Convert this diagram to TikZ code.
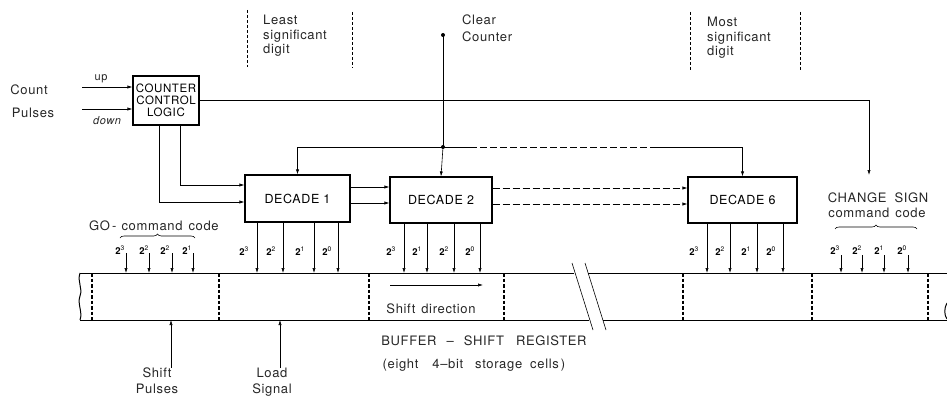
\documentclass[tikz,border=0pt]{standalone}
\usepackage{fontspec}
\setmainfont[LetterSpace=5]{TeX Gyre Heros}
\usetikzlibrary{arrows.meta,positioning,calc,decorations.pathreplacing}

\tikzset{
  box/.style={draw, line width=1.1pt, inner sep=0pt, font=\fontsize{12.5}{14}\selectfont},
  conn/.style={line width=0.6pt, -{Latex[length=5pt,width=3.2pt]}},
  wire/.style={line width=0.6pt},
  lbl/.style={font=\fontsize{13}{14.5}\selectfont, text=black!85, align=left, inner sep=0pt},
  small/.style={font=\fontsize{11}{12}\selectfont, text=black!85, inner sep=0pt},
  bit/.style={font=\fontsize{9.5}{10}\selectfont, inner sep=0pt, anchor=base},
  divider/.style={line width=0.9pt, dash pattern=on 3pt off 2pt},
  cell/.style={line width=1.1pt, dash pattern=on 3.5pt off 2pt},
  reg/.style={line width=1pt},
  brc/.style={decorate, decoration={brace, amplitude=4pt}, line width=0.6pt},
}
\newcommand{\bitlbl}[1]{{\bfseries 2}\textsuperscript{#1}}

\begin{document}
\begin{tikzpicture}[x=1pt,y=-1pt]
\useasboundingbox (0,0) rectangle (947,396);

% digit markers
\draw[divider] (247,10) -- (247,67);
\draw[divider] (352,12) -- (352,68);
\node[lbl, anchor=north west] (lsd) at (263,15) {Least\\significant\\digit};
\draw[divider] (690,12) -- (690,70);
\draw[divider] (800,12) -- (800,70);
\node[lbl, anchor=north west] (msd) at (707,17) {Most\\significant\\digit};

% inputs
\node[lbl, anchor=base] (count) at (29,94) {Count};
\node[lbl, anchor=base] (pulses) at (33,117) {Pulses};
\node[small, anchor=base] (uplbl) at (101,81) {up};
\node[small, anchor=base, font=\fontsize{11}{12}\itshape] (downlbl) at (107,124) {down};
\coordinate (upin) at (82,87);
\coordinate (downin) at (82,109);

% boxes
\node[box, minimum width=66pt, minimum height=49pt, align=center,
  font=\fontsize{11.5}{12}\selectfont] (ccl) at (166,100.5) {COUNTER\\CONTROL\\LOGIC};
\node[box, minimum width=105pt, minimum height=47pt] (dec1) at (297.5,198.5) {DECADE 1};
\node[box, minimum width=102pt, minimum height=46pt] (dec2) at (441,200) {DECADE 2};
\node[box, minimum width=109pt, minimum height=46pt] (dec6) at (742.5,200) {DECADE 6};

\draw[conn] (upin) -- (ccl.west |- upin);
\draw[conn] (downin) -- (ccl.west |- downin);

% clear counter
\node[lbl, anchor=north west, align=left, font=\fontsize{13}{17}\selectfont] (clrlbl) at (462,15) {Clear\\Counter};
\coordinate (clr) at (443,35);
\coordinate (jn) at (443,147);
\fill (clr) circle (2pt);
\fill (jn) circle (2pt);
\draw[wire] (clr) -- (jn);
\draw[conn] (jn) -- (dec2.north);
\draw[conn] (jn) -| (dec1.north);
\draw[wire] (jn) -- (470,147);
\draw[wire, dash pattern=on 7pt off 3pt] (470,147) -- (650,147);
\draw[conn] (650,147) -| (dec6.north);

% counter control to decades
\draw[conn] (ccl.south -| 180,0) |- (dec1.west |- 0,185);
\draw[conn] (ccl.south -| 159,0) |- (dec1.west |- 0,202);
\draw[conn] (dec1.east |- 0,187) -- (dec2.west |- 0,187);
\draw[conn] (dec1.east |- 0,203) -- (dec2.west |- 0,203);
\draw[conn, dash pattern=on 7pt off 3pt] (dec2.east |- 0,188) -- (dec6.west |- 0,188);
\draw[conn, dash pattern=on 7pt off 3pt] (dec2.east |- 0,204) -- (dec6.west |- 0,204);

% change sign
\node[lbl, anchor=base, align=center] (cs) at (878,202) {CHANGE\hspace{8pt}SIGN};
\node[lbl, anchor=base] (cscode) at (877,217) {command\hspace{6pt}code};
\coordinate (csin) at (869,175);
\draw[conn] (ccl.east |- 0,100) -| (csin);

% buffer shift register
\coordinate (regTL) at (80,273);
\coordinate (regBL) at (80,320);
\draw[reg] (regTL) -- (574,273) (588,273) -- (947,273);
\draw[reg] (regBL) -- (589,320) (603,320) -- (947,320);
\draw[reg] (regTL) .. controls (77,282) and (83,288) .. (80,296) .. controls (77,304) and (83,312) .. (regBL);
\draw[reg] (947,303) .. controls (944,308) and (944,315) .. (947,319);
\draw[wire] (572,263) -- (593,330);
\draw[wire] (585,263) -- (606,330);
\foreach \cx in {92,219,369,504,683,812,928}
  \draw[cell] (\cx,273) -- (\cx,320);

\coordinate (shl) at (390,285);
\coordinate (shr) at (483,285);
\draw[conn] (shl) -- (shr);
\node[lbl, anchor=base] (shdir) at (431,313) {Shift\hspace{6pt}direction};
\node[lbl, anchor=base] (bsr) at (484,345) {BUFFER\hspace{10pt}--\hspace{10pt}SHIFT\hspace{12pt}REGISTER};
\node[lbl, anchor=base] (cells) at (474,368) {(eight\hspace{14pt}4--bit\hspace{12pt}storage\hspace{8pt}cells\,)};

% shift pulses, load signal
\node[lbl, anchor=north, align=center, font=\fontsize{13}{16}\selectfont] (sp) at (157,368) {Shift\\Pulses};
\node[lbl, anchor=north, align=center, font=\fontsize{13}{16}\selectfont] (ls) at (272,368) {Load\\Signal};
\draw[conn] (sp.north -| 171,0) -- (regBL -| 171,0);
\draw[conn] (ls.north -| 280,0) -- (regBL -| 280,0);

% GO command code
\node[lbl, anchor=base west] (go) at (89,230) {GO\,-\hspace{5pt}command\hspace{6pt}code};
\draw[brc] (120,238) -- (195,238);
\foreach \ax/\lx/\e in {126/120/3, 149/144/2, 172/165/2, 193/187/1}{
  \node[bit] at (\lx,254) {\bitlbl{\e}};
  \draw[conn] (\ax,253) -- (regTL -| \ax,0);
}
% change sign code bits
\draw[brc] (835,229) -- (917,229);
\foreach \ax/\lx/\e in {841/835/3, 862/857/2, 884/879/1, 908/902/0}{
  \node[bit] at (\lx,254) {\bitlbl{\e}};
  \draw[conn] (\ax,255) -- (regTL -| \ax,0);
}

% decade outputs
\foreach \ax/\lx/\e in {257/244/3, 283/271/2, 314/300/1, 338/327/0}{
  \node[bit] at (\lx,255) {\bitlbl{\e}};
  \draw[conn] (dec1.south -| \ax,0) -- (regTL -| \ax,0);
}
\foreach \ax/\lx/\e in {404/391/3, 427/417/1, 454/444/2, 480/470/0}{
  \node[bit] at (\lx,255) {\bitlbl{\e}};
  \draw[conn] (dec2.south -| \ax,0) -- (regTL -| \ax,0);
}
\foreach \ax/\lx/\e in {707/694/3, 730/720/2, 757/746/1, 783/771/0}{
  \node[bit] at (\lx,255) {\bitlbl{\e}};
  \draw[conn] (dec6.south -| \ax,0) -- (regTL -| \ax,0);
}
\end{tikzpicture}
\end{document}
